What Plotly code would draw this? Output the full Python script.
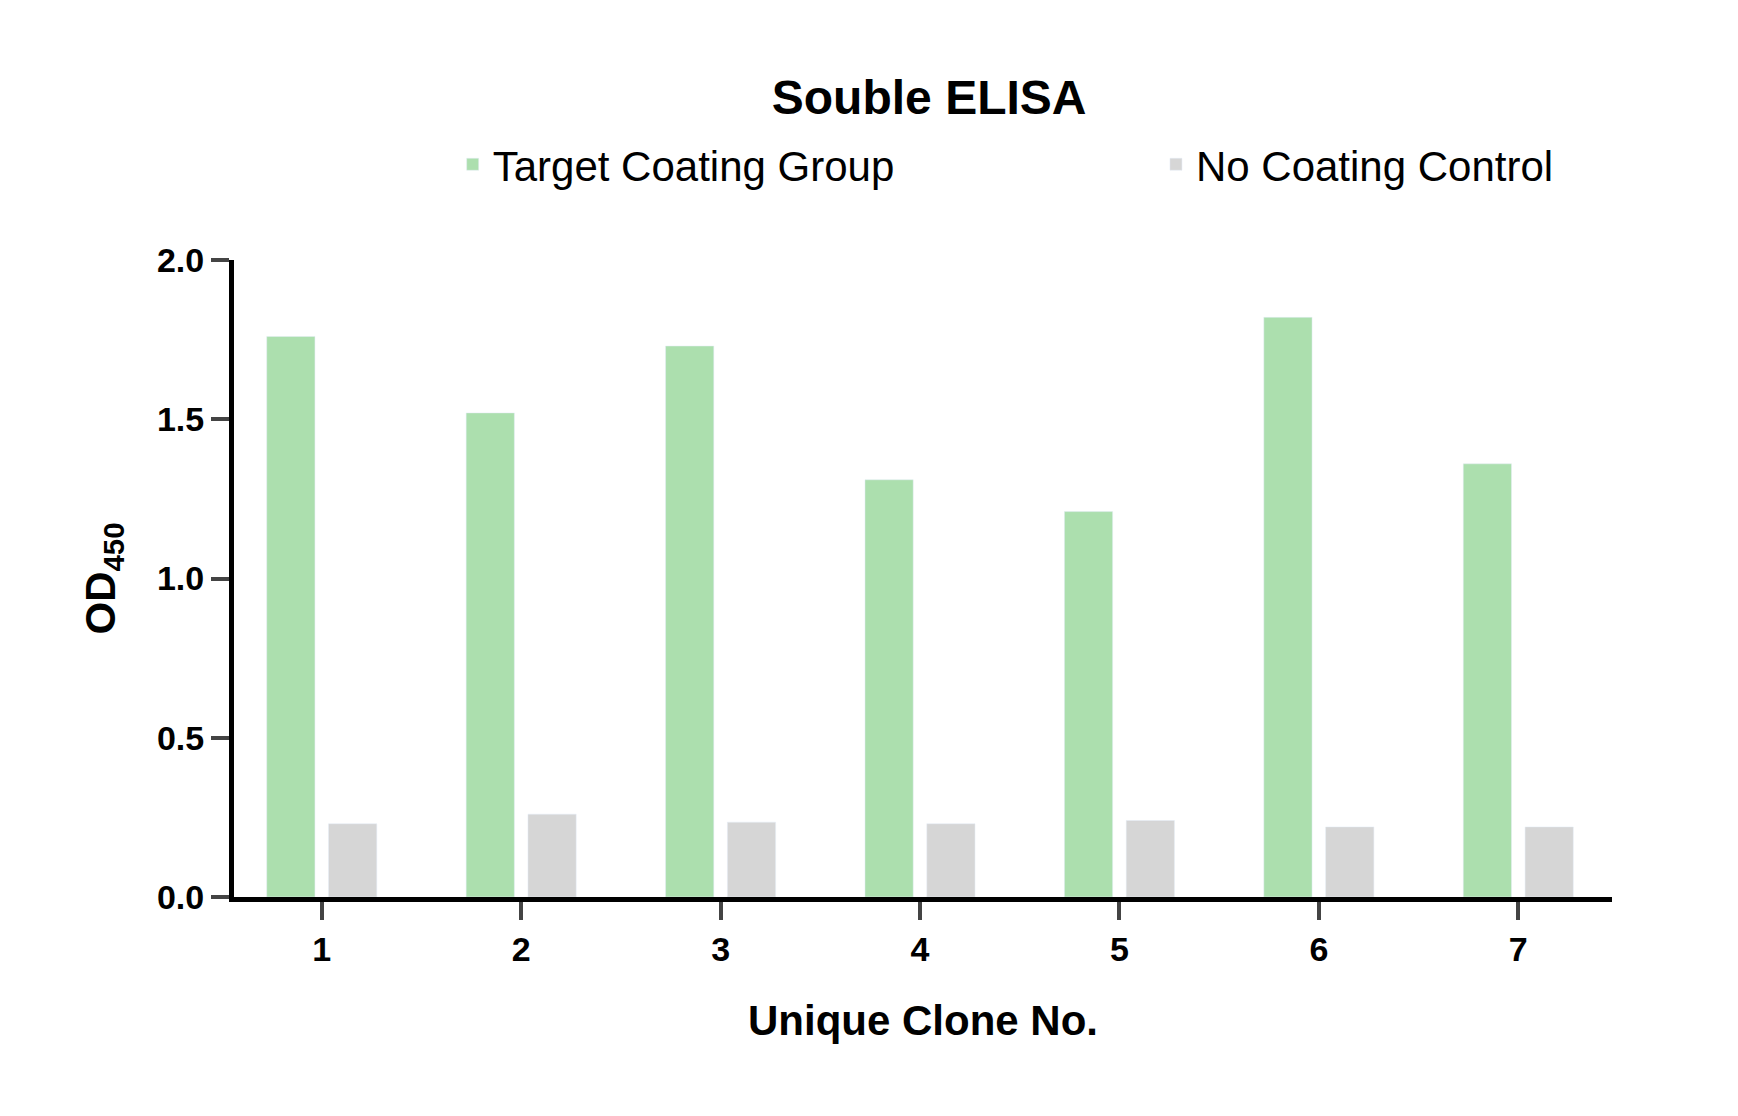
import plotly.graph_objects as go

clones = [1, 2, 3, 4, 5, 6, 7]
clone_labels = ["1", "2", "3", "4", "5", "6", "7"]
target = [1.76, 1.52, 1.73, 1.31, 1.21, 1.82, 1.36]
control = [0.23, 0.26, 0.235, 0.23, 0.24, 0.22, 0.22]

font = "Liberation Sans, Arial"

fig = go.Figure()
fig.add_trace(go.Bar(x=clones, y=target, name="Target Coating Group" + "\u00a0" * 22, marker_color="#ACDFAE"))
fig.add_trace(go.Bar(x=clones, y=control, name="No Coating Control", marker_color="#D6D6D6"))

fig.update_layout(
    width=1738, height=1116,
    plot_bgcolor="white", paper_bgcolor="white",
    barmode="group", bargap=0.38, bargroupgap=0.22,
    margin=dict(l=226, r=134, t=252, b=227),
    title=dict(text="<b>Souble ELISA</b>", x=0.53, xanchor="center", y=0.935,
               font=dict(family=font, size=48, color="black")),
    legend=dict(orientation="h", x=0.56, xanchor="center", y=1.15, yanchor="middle",
                font=dict(family=font, size=42, color="black")),
    font=dict(family=font, color="black"),
)
fig.update_xaxes(
    range=[0.56, 7.47], tickvals=clones, ticktext=["<b>%s</b>" % t for t in clone_labels],
    ticks="outside", ticklen=18, tickwidth=4,
    showline=True, linewidth=5, linecolor="black", showgrid=False,
    tickfont=dict(family=font, size=34, color="black"),
    title=dict(text="<b>Unique Clone No.</b>", font=dict(family=font, size=42, color="black"), standoff=40),
)
fig.update_yaxes(
    range=[0, 2.0], tickvals=[0, 0.5, 1.0, 1.5, 2.0], ticktext=["<b>0.0</b>", "<b>0.5</b>", "<b>1.0</b>", "<b>1.5</b>", "<b>2.0</b>"],
    ticks="outside", ticklen=18, tickwidth=4,
    showline=True, linewidth=5, linecolor="black", showgrid=False, zeroline=False,
    tickfont=dict(family=font, size=34, color="black"),
    title=dict(text="<b>OD<sub>450</sub></b>", font=dict(family=font, size=42, color="black"), standoff=30),
)
fig.write_html("out.html")
